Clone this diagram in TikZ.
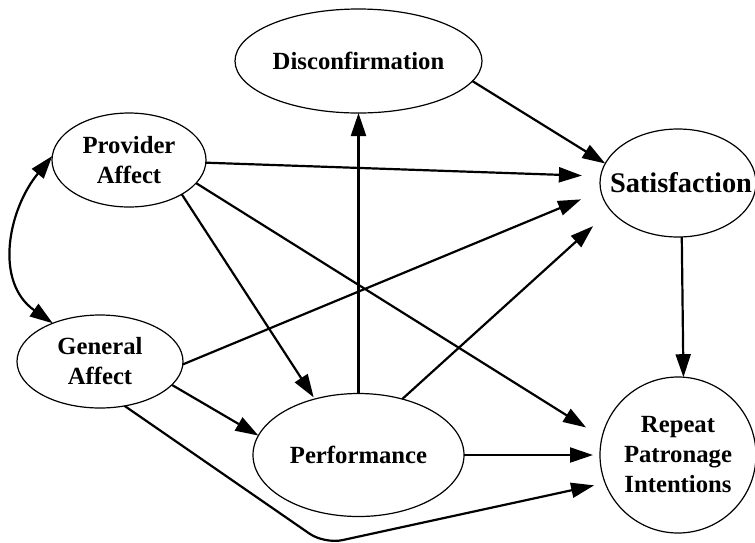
\documentclass[tikz,border=0pt]{standalone}
\usepackage{fontspec}
\setmainfont{Liberation Serif}
\usetikzlibrary{shapes.geometric,arrows.meta}
\begin{document}
\begin{tikzpicture}[x=1pt,y=-1pt,
  ell/.style={draw, ellipse, line width=1.2pt, inner sep=0pt, outer sep=0pt},
  txt/.style={font=\fontsize{24.7}{30}\selectfont\bfseries, align=center, inner sep=0pt},
  bigtxt/.style={font=\fontsize{28.4}{34}\selectfont\bfseries, align=center, inner sep=0pt},
  tip/.tip={Triangle[length=23pt,width=15pt]},
  arr/.style={line width=2.2pt, -tip},
  dbl/.style={line width=2.2pt, tip-tip},
]
\useasboundingbox (0,0) rectangle (755,542);

% constructs
\node[ell, minimum width=247pt, minimum height=104pt,
      label={[txt]center:Disconfirmation}] (disc) at (358.5,61) {};
\node[ell, minimum width=154pt, minimum height=94pt,
      label={[txt]center:{Provider\\Affect}}] (prov) at (129,160) {};
\node[ell, minimum width=166pt, minimum height=93pt,
      label={[txt]center:{General\\Affect}}] (gen) at (100,361.5) {};
\node[ell, minimum width=211pt, minimum height=123pt,
      label={[txt]center:Performance}] (perf) at (358.5,455) {};
\node[ell, minimum width=156pt, minimum height=108pt,
      label={[bigtxt,xshift=3pt]center:Satisfaction}] (sat) at (678,183) {};
\node[ell, minimum width=156pt, minimum height=156pt,
      label={[txt]center:{Repeat\\Patronage\\Intentions}}] (rep) at (678,455) {};

\coordinate (bend) at (324.5,544);

% paths into Satisfaction
\draw[arr] (disc.-10) -- (sat.165);
\draw[arr, shorten >=18.7pt] (prov.-2) -- (sat.175);
\draw[arr, shorten >=21.5pt] (gen.-2) -- (sat.186);
\draw[arr, shorten >=23.7pt] (perf.52) -- (sat.202);

% paths into Performance and Disconfirmation
\draw[arr] (perf.90) -- (disc.-90);
\draw[arr, shorten >=2pt] (prov.-33) -- (perf.128);
\draw[arr] (gen.-18) -- (perf.169);

% paths into Repeat Patronage Intentions
\draw[arr, shorten >=18.8pt] (prov.-19) -- (rep.167);
\draw[arr, shorten >=7pt] (perf.0) -- (rep.180);
\draw[arr, rounded corners=18pt, shorten >=11.3pt] (gen.-61) -- (bend) -- (rep.201);
\draw[arr] (sat.-86) -- (rep.86);

% correlation between the two affect constructs
\draw[dbl] (gen.141) .. controls (-6,282) and (8,210) .. (prov.177);
\end{tikzpicture}
\end{document}
